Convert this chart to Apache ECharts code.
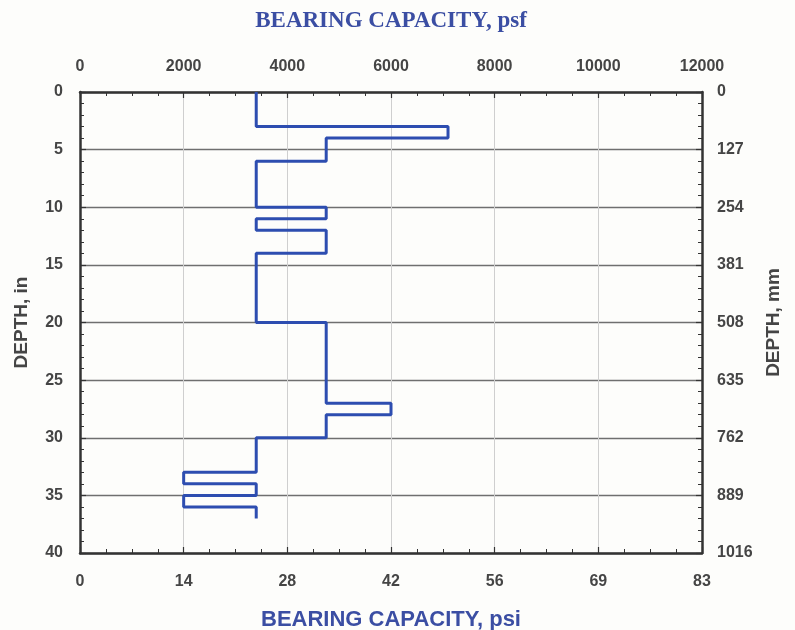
<!DOCTYPE html>
<html>
<head>
<meta charset="utf-8">
<script src="https://cdn.jsdelivr.net/npm/echarts@6/dist/echarts.min.js"></script>
<style>
html,body{margin:0;padding:0;background:#fdfdfb;}
#chart{width:795px;height:630px;}
</style>
</head>
<body>
<div id="chart"></div>
<script>
// Layers: top depth (in), bottom depth (in), bearing capacity (psf)
var layerTop    = [0, 3, 4, 6, 10, 11, 12, 14, 20, 27, 28, 30, 33, 34, 35, 36];
var layerBottom = [3, 4, 6, 10, 11, 12, 14, 20, 27, 28, 30, 33, 34, 35, 36, 37];
var capacityPsf = [3400, 7100, 4750, 3400, 4750, 3400, 4750, 3400, 4750, 6000, 4750, 3400, 2000, 3400, 2000, 3400];

var psfTicks = [0, 2000, 4000, 6000, 8000, 10000, 12000];
var psiLabels = ['0', '14', '28', '42', '56', '69', '83'];
var depthInTicks = [0, 5, 10, 15, 20, 25, 30, 35, 40];
var depthMmLabels = ['0', '127', '254', '381', '508', '635', '762', '889', '1016'];

var pts = [];
for (var i = 0; i < layerTop.length; i++) {
  pts.push([capacityPsf[i], layerTop[i]]);
  pts.push([capacityPsf[i], layerBottom[i]]);
}

var axisColor = '#333333';
var labelColor = '#454545';
var blue = '#3b4ea3';
var tickFont = {color: labelColor, fontFamily: 'Liberation Sans', fontSize: 16, fontWeight: 'bold'};

function merge(a, b) { var o = {}; for (var k in a) o[k] = a[k]; for (var k2 in b) o[k2] = b[k2]; return o; }

function xAx(pos, extra) {
  return merge({
    type: 'value', position: pos, min: 0, max: 12000, interval: 2000,
    axisLine: {show: true, onZero: false, lineStyle: {color: axisColor, width: 2.5}},
    axisTick: {show: true, inside: true, length: 6, lineStyle: {color: axisColor, width: 1.2}},
    minorTick: {show: true, splitNumber: 4, length: 4, lineStyle: {color: axisColor, width: 1}},
    splitLine: {show: false}
  }, extra);
}
function yAx(pos, extra) {
  return merge({
    type: 'value', position: pos, min: 0, max: 40, interval: 5, inverse: true,
    axisLine: {show: true, onZero: false, lineStyle: {color: axisColor, width: 2.5}},
    axisTick: {show: true, inside: true, length: 6, lineStyle: {color: axisColor, width: 1.2}},
    minorTick: {show: true, splitNumber: 5, length: 4, lineStyle: {color: axisColor, width: 1}},
    splitLine: {show: false}
  }, extra);
}

var chart = echarts.init(document.getElementById('chart'));
chart.setOption({
  backgroundColor: '#fdfdfb',
  animation: false,
  grid: {left: 80, right: 93, top: 92, bottom: 77, containLabel: false, outerBoundsMode: 'none'},
  xAxis: [
    xAx('top', {
      name: 'BEARING CAPACITY, psf', nameLocation: 'middle', nameGap: 59,
      nameTextStyle: {color: blue, fontFamily: 'Liberation Serif', fontSize: 23, fontWeight: 'bold'},
      axisLabel: merge(tickFont, {margin: 17,
        formatter: function (v) { return String(psfTicks[psfTicks.indexOf(v)]); }}),
      splitLine: {show: true, lineStyle: {color: '#cfcfcf', width: 1}}
    }),
    xAx('bottom', {
      name: 'BEARING CAPACITY, psi', nameLocation: 'middle', nameGap: 56,
      nameTextStyle: {color: blue, fontFamily: 'Liberation Sans', fontSize: 22, fontWeight: 'bold'},
      axisLabel: merge(tickFont, {margin: 21,
        formatter: function (v) { return psiLabels[psfTicks.indexOf(v)]; }})
    })
  ],
  yAxis: [
    yAx('left', {
      name: 'DEPTH, in', nameLocation: 'middle', nameGap: 49,
      nameTextStyle: {color: labelColor, fontFamily: 'Liberation Sans', fontSize: 19, fontWeight: 'bold'},
      axisLabel: merge(tickFont, {margin: 17,
        formatter: function (v) { return String(depthInTicks[depthInTicks.indexOf(v)]); }}),
      splitLine: {show: true, lineStyle: {color: '#6f6f6f', width: 1.3}}
    }),
    yAx('right', {
      name: 'DEPTH, mm', nameLocation: 'middle', nameGap: 62,
      nameTextStyle: {color: labelColor, fontFamily: 'Liberation Sans', fontSize: 19, fontWeight: 'bold'},
      axisLabel: merge(tickFont, {margin: 15,
        formatter: function (v) { return depthMmLabels[depthInTicks.indexOf(v)]; }})
    })
  ],
  series: [{
    type: 'line',
    xAxisIndex: 0, yAxisIndex: 0,
    data: pts,
    showSymbol: false,
    symbol: 'none',
    lineStyle: {color: '#2d4db0', width: 3},
    z: 5
  }]
});
</script>
</body>
</html>
